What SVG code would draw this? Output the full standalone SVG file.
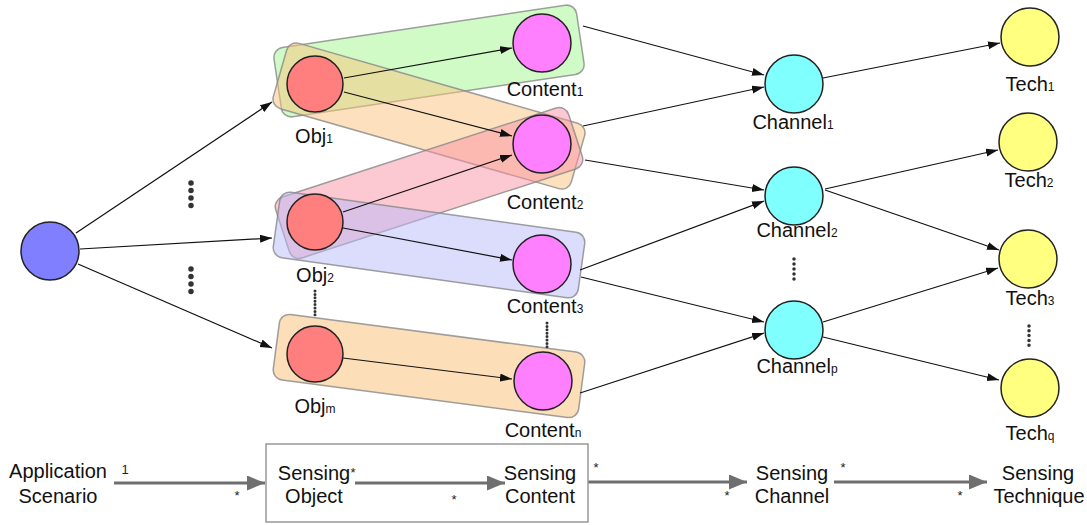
<svg xmlns="http://www.w3.org/2000/svg" width="1087" height="525" viewBox="0 0 1087 525">
<style>
.lbl{font-family:"Liberation Sans",Arial,sans-serif;font-size:20px;fill:#111;text-anchor:middle}
.sub{font-size:12px}
.mult{font-family:"Liberation Sans",Arial,sans-serif;font-size:13px;fill:#222;text-anchor:middle}
.node{stroke:#222;stroke-width:1.5}
.root{fill:#7f7fff}.obj{fill:#ff7f7f}.cont{fill:#ff80ff}.chan{fill:#80ffff}.tech{fill:#ffff80}
.grp{stroke:#888;stroke-opacity:0.8;stroke-width:1.5}
.edge{stroke:#111;stroke-width:1.2;fill:none;marker-end:url(#ah)}
.big{stroke:#6f6f6f;stroke-width:3;fill:none;marker-end:url(#gh)}
.dots{stroke:#333;stroke-linecap:round;fill:none}
</style>
<defs>
<marker id="ah" markerUnits="userSpaceOnUse" markerWidth="13" markerHeight="9" refX="12" refY="4" orient="auto"><path d="M0,0 L12,4 L0,8 z" fill="#111"/></marker>
<marker id="gh" markerUnits="userSpaceOnUse" markerWidth="19" markerHeight="16" refX="18" refY="7.5" orient="auto"><path d="M0,0 L18,7.5 L0,15 z" fill="#6f6f6f"/></marker>
</defs>
<rect width="1087" height="525" fill="#fff"/>

<g id="pairs">
<rect class="grp" x="-153" y="-35" width="306" height="70" rx="10" fill="#a1f58d" fill-opacity="0.5" transform="translate(429,61) rotate(-8.5)"/>
<rect class="grp" x="-155" y="-34" width="310" height="68" rx="10" fill="#fbc37d" fill-opacity="0.5" transform="translate(429,116) rotate(16)"/>
<rect class="grp" x="-154" y="-32" width="308" height="64" rx="10" fill="#f991a5" fill-opacity="0.5" transform="translate(429,183) rotate(-18)"/>
<rect class="grp" x="-154" y="-33" width="308" height="66" rx="10" fill="#b9b9f9" fill-opacity="0.5" transform="translate(429,245) rotate(8)"/>
<rect class="grp" x="-154" y="-33" width="308" height="66" rx="10" fill="#f9bd73" fill-opacity="0.5" transform="translate(429,366) rotate(7.5)"/>
</g>

<g id="connectors">
<line class="edge" x1="76" y1="233" x2="272" y2="102"/>
<line class="edge" x1="80" y1="249" x2="272" y2="238"/>
<line class="edge" x1="78" y1="264" x2="272" y2="348"/>
<line class="edge" x1="344" y1="78" x2="512" y2="48"/>
<line class="edge" x1="344" y1="92" x2="512" y2="136"/>
<line class="edge" x1="343" y1="212" x2="512" y2="155"/>
<line class="edge" x1="343" y1="228" x2="512" y2="260"/>
<line class="edge" x1="343" y1="358" x2="512" y2="379"/>
<line class="edge" x1="583" y1="26" x2="764" y2="75"/>
<line class="edge" x1="583" y1="126" x2="764" y2="87"/>
<line class="edge" x1="585" y1="160" x2="764" y2="190"/>
<line class="edge" x1="580" y1="270" x2="764" y2="201"/>
<line class="edge" x1="581" y1="277" x2="764" y2="322"/>
<line class="edge" x1="580" y1="393" x2="764" y2="333"/>
<line class="edge" x1="823" y1="78" x2="1000" y2="43"/>
<line class="edge" x1="825" y1="189" x2="998" y2="150"/>
<line class="edge" x1="825" y1="190" x2="999" y2="250"/>
<line class="edge" x1="823" y1="322" x2="998" y2="268"/>
<line class="edge" x1="823" y1="337" x2="999" y2="380"/>
<line class="big" x1="114" y1="483" x2="265" y2="483"/>
<line class="big" x1="355" y1="483" x2="505" y2="483"/>
<line class="big" x1="588" y1="482" x2="747" y2="482"/>
<line class="big" x1="834" y1="482" x2="987" y2="482"/>
</g>

<g id="ellipses">
<line class="dots" x1="191" y1="183" x2="191" y2="213" stroke-width="5.5" stroke-dasharray="0 7.5"/>
<line class="dots" x1="191" y1="269" x2="191" y2="299" stroke-width="5.5" stroke-dasharray="0 7.5"/>
<line class="dots" x1="315" y1="291" x2="315" y2="315" stroke-width="3" stroke-dasharray="0 3.4"/>
<line class="dots" x1="547" y1="323" x2="547" y2="347" stroke-width="3" stroke-dasharray="0 3.4"/>
<line class="dots" x1="794" y1="259" x2="794" y2="284" stroke-width="3.5" stroke-dasharray="0 5"/>
<line class="dots" x1="1029" y1="326" x2="1029" y2="350" stroke-width="3.5" stroke-dasharray="0 4.8"/>
</g>

<g id="scenario"><circle class="node root" cx="50" cy="251" r="29"/></g>
<g id="obj1"><circle class="node obj" cx="315" cy="84" r="28"/><text class="lbl" x="314" y="143">Obj<tspan class="sub">1</tspan></text></g>
<g id="obj2"><circle class="node obj" cx="315" cy="222" r="28"/><text class="lbl" x="315" y="282">Obj<tspan class="sub">2</tspan></text></g>
<g id="objm"><circle class="node obj" cx="315" cy="354" r="28"/><text class="lbl" x="315" y="413">Obj<tspan class="sub">m</tspan></text></g>
<g id="content1"><circle class="node cont" cx="542" cy="43" r="29"/><text class="lbl" x="545" y="96">Content<tspan class="sub">1</tspan></text></g>
<g id="content2"><circle class="node cont" cx="542" cy="144" r="29"/><text class="lbl" x="545" y="209">Content<tspan class="sub">2</tspan></text></g>
<g id="content3"><circle class="node cont" cx="542" cy="264" r="29"/><text class="lbl" x="545" y="313">Content<tspan class="sub">3</tspan></text></g>
<g id="contentn"><circle class="node cont" cx="543" cy="381" r="29"/><text class="lbl" x="543" y="437">Content<tspan class="sub">n</tspan></text></g>
<g id="channel1"><circle class="node chan" cx="794" cy="84" r="29"/><text class="lbl" x="793" y="129">Channel<tspan class="sub">1</tspan></text></g>
<g id="channel2"><circle class="node chan" cx="794" cy="196" r="29"/><text class="lbl" x="797" y="237">Channel<tspan class="sub">2</tspan></text></g>
<g id="channelp"><circle class="node chan" cx="794" cy="330" r="29"/><text class="lbl" x="797" y="373">Channel<tspan class="sub">p</tspan></text></g>
<g id="tech1"><circle class="node tech" cx="1030" cy="37" r="29"/><text class="lbl" x="1030" y="91">Tech<tspan class="sub">1</tspan></text></g>
<g id="tech2"><circle class="node tech" cx="1028" cy="142" r="29"/><text class="lbl" x="1029" y="187">Tech<tspan class="sub">2</tspan></text></g>
<g id="tech3"><circle class="node tech" cx="1028" cy="259" r="29"/><text class="lbl" x="1030" y="305">Tech<tspan class="sub">3</tspan></text></g>
<g id="techq"><circle class="node tech" cx="1030" cy="388" r="29"/><text class="lbl" x="1030" y="440">Tech<tspan class="sub">q</tspan></text></g>

<g id="legend">
<rect x="266" y="444" width="322" height="78" fill="none" stroke="#999" stroke-width="1.5"/>
<text class="lbl" x="58" y="478">Application</text>
<text class="lbl" x="58" y="503">Scenario</text>
<text class="lbl" x="314" y="480">Sensing</text>
<text class="lbl" x="314" y="503">Object</text>
<text class="lbl" x="540" y="480">Sensing</text>
<text class="lbl" x="540" y="503">Content</text>
<text class="lbl" x="792" y="480">Sensing</text>
<text class="lbl" x="792" y="503">Channel</text>
<text class="lbl" x="1038" y="480">Sensing</text>
<text class="lbl" x="1039" y="503">Technique</text>
<text class="mult" x="125" y="474">1</text>
<text class="mult" x="237" y="500">*</text>
<text class="mult" x="353" y="477">*</text>
<text class="mult" x="454" y="504">*</text>
<text class="mult" x="596" y="472">*</text>
<text class="mult" x="727" y="500">*</text>
<text class="mult" x="843" y="472">*</text>
<text class="mult" x="960" y="500">*</text>
</g>
</svg>
